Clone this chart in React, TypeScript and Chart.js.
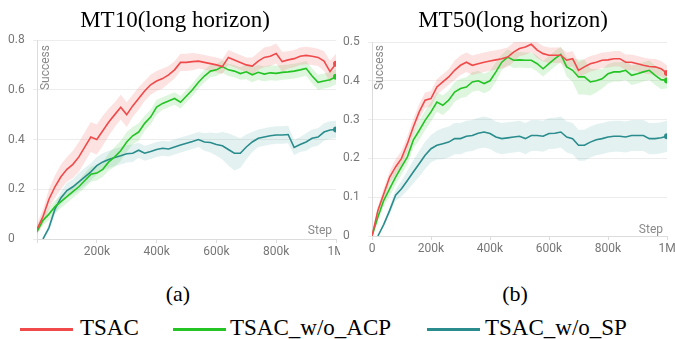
import React, { useEffect, useRef } from "react";
import { Chart, registerables } from "chart.js";
Chart.register(...registerables);

// ---------- data ----------
const STEPS_K = [0,20,40,60,80,100,120,140,160,180,200,220,240,260,280,300,320,340,360,380,400,420,440,460,480,500,520,540,560,580,600,620,640,660,680,700,720,740,760,780,800,820,840,860,880,900,920,940,960,980,1000];
const X_TICK_VALUES = [0, 200000, 400000, 600000, 800000, 1000000];
const X_TICK_LABELS = ["0", "200k", "400k", "600k", "800k", "1M"];
const Y_TICKS_MT10 = ["0", "0.2", "0.4", "0.6", "0.8"];
const Y_TICKS_MT50 = ["0", "0.1", "0.2", "0.3", "0.4", "0.5"];

const SERIES_NAMES = ["TSAC", "TSAC_w/o_ACP", "TSAC_w/o_SP"];

// MT10 means
const MT10_TSAC = [0.04,0.09,0.16,0.21,0.25,0.28,0.30,0.33,0.37,0.41,0.40,0.435,0.47,0.50,0.53,0.50,0.535,0.565,0.595,0.62,0.635,0.645,0.66,0.68,0.71,0.71,0.713,0.715,0.71,0.705,0.70,0.693,0.73,0.72,0.71,0.70,0.695,0.715,0.73,0.735,0.746,0.713,0.72,0.725,0.735,0.738,0.735,0.73,0.715,0.673,0.705];
const MT10_ACP = [0.03,0.075,0.10,0.13,0.15,0.17,0.19,0.21,0.235,0.26,0.265,0.28,0.31,0.33,0.355,0.39,0.415,0.43,0.465,0.49,0.53,0.545,0.555,0.565,0.55,0.575,0.60,0.63,0.655,0.675,0.68,0.693,0.68,0.675,0.665,0.672,0.66,0.67,0.663,0.668,0.666,0.67,0.672,0.675,0.68,0.686,0.655,0.63,0.635,0.64,0.652];
const MT10_SP = [null,0.0,0.045,0.12,0.165,0.195,0.21,0.23,0.25,0.27,0.295,0.31,0.32,0.328,0.335,0.343,0.345,0.357,0.345,0.352,0.36,0.365,0.362,0.37,0.378,0.385,0.392,0.40,0.39,0.388,0.38,0.375,0.36,0.345,0.345,0.37,0.39,0.405,0.41,0.415,0.418,0.418,0.42,0.368,0.38,0.39,0.405,0.41,0.43,0.438,0.44];
// MT10 band half-widths
const MT10_TSAC_SPREAD = [0.02,0.03,0.04,0.045,0.05,0.05,0.055,0.06,0.06,0.06,0.06,0.06,0.055,0.05,0.05,0.05,0.045,0.045,0.04,0.04,0.04,0.04,0.035,0.035,0.035,0.035,0.035,0.03,0.03,0.03,0.03,0.03,0.03,0.03,0.03,0.03,0.035,0.035,0.04,0.04,0.04,0.04,0.035,0.035,0.035,0.035,0.035,0.035,0.04,0.045,0.04];
const MT10_ACP_SPREAD = [0.01,0.02,0.025,0.025,0.025,0.025,0.025,0.025,0.03,0.03,0.03,0.03,0.035,0.04,0.04,0.04,0.035,0.035,0.03,0.03,0.03,0.025,0.025,0.025,0.025,0.025,0.025,0.025,0.025,0.025,0.025,0.025,0.025,0.025,0.025,0.03,0.03,0.03,0.03,0.03,0.03,0.03,0.03,0.03,0.03,0.03,0.03,0.03,0.03,0.03,0.03];
const MT10_SP_SPREAD = [0,0,0.015,0.02,0.025,0.03,0.03,0.035,0.035,0.035,0.035,0.035,0.035,0.035,0.035,0.035,0.035,0.03,0.03,0.03,0.03,0.03,0.03,0.03,0.03,0.03,0.03,0.03,0.035,0.04,0.045,0.055,0.065,0.07,0.06,0.05,0.04,0.035,0.035,0.035,0.035,0.035,0.035,0.03,0.03,0.035,0.035,0.035,0.035,0.035,0.035];

// MT50 means
const MT50_TSAC = [0,0.066,0.109,0.152,0.178,0.20,0.238,0.281,0.32,0.35,0.354,0.384,0.397,0.41,0.427,0.44,0.448,0.44,0.444,0.448,0.451,0.454,0.457,0.461,0.474,0.483,0.487,0.494,0.479,0.47,0.466,0.466,0.466,0.453,0.457,0.427,0.436,0.444,0.448,0.453,0.454,0.457,0.457,0.448,0.448,0.444,0.44,0.437,0.436,0.431,0.42];
const MT50_ACP = [0,0.049,0.092,0.122,0.152,0.178,0.204,0.247,0.272,0.298,0.32,0.345,0.337,0.35,0.371,0.38,0.384,0.397,0.40,0.393,0.40,0.423,0.448,0.461,0.453,0.454,0.453,0.453,0.444,0.431,0.444,0.457,0.468,0.436,0.427,0.41,0.41,0.397,0.40,0.405,0.418,0.423,0.423,0.427,0.414,0.418,0.423,0.427,0.414,0.403,0.401];
const MT50_SP = [null,0,0.03,0.066,0.105,0.122,0.143,0.165,0.186,0.208,0.225,0.234,0.238,0.242,0.251,0.251,0.257,0.259,0.265,0.268,0.264,0.255,0.251,0.253,0.255,0.257,0.251,0.259,0.259,0.257,0.264,0.265,0.268,0.255,0.251,0.234,0.234,0.242,0.248,0.251,0.255,0.257,0.257,0.255,0.259,0.259,0.259,0.251,0.251,0.253,0.257];
// MT50 band half-widths
const MT50_TSAC_SPREAD = [0.005,0.01,0.015,0.015,0.02,0.02,0.02,0.02,0.02,0.02,0.02,0.02,0.02,0.02,0.025,0.025,0.025,0.025,0.025,0.025,0.025,0.025,0.025,0.025,0.025,0.02,0.02,0.02,0.02,0.02,0.02,0.02,0.02,0.02,0.02,0.02,0.02,0.02,0.02,0.02,0.02,0.02,0.02,0.02,0.02,0.02,0.02,0.02,0.02,0.02,0.02];
const MT50_ACP_SPREAD = [0.005,0.01,0.015,0.02,0.02,0.02,0.02,0.02,0.025,0.025,0.025,0.025,0.025,0.025,0.025,0.025,0.025,0.025,0.025,0.025,0.025,0.025,0.02,0.02,0.02,0.02,0.02,0.02,0.02,0.02,0.02,0.02,0.02,0.025,0.03,0.045,0.045,0.035,0.03,0.025,0.025,0.025,0.025,0.025,0.025,0.025,0.025,0.025,0.025,0.025,0.02];
const MT50_SP_SPREAD = [0,0,0.005,0.01,0.015,0.02,0.025,0.03,0.033,0.035,0.035,0.037,0.04,0.04,0.04,0.04,0.04,0.04,0.04,0.04,0.04,0.04,0.04,0.04,0.04,0.04,0.04,0.04,0.04,0.04,0.04,0.04,0.04,0.04,0.04,0.04,0.04,0.04,0.04,0.04,0.04,0.04,0.04,0.04,0.04,0.04,0.04,0.04,0.04,0.04,0.04];

// ---------- styles ----------
const LINE_COLORS = ["#f04a4a", "#24c424", "#2a8c8c"];
const BAND_COLORS = ["rgba(245,110,110,0.20)", "rgba(90,205,90,0.20)", "rgba(70,160,160,0.15)"];
const SERIF = '"Liberation Serif", "Times New Roman", serif';
const SANS = 'Roboto, "Liberation Sans", Arial, sans-serif';

type Cfg = {
  means: (number | null)[][];
  spreads: number[][];
  yMax: number;
  yLabels: string[];
  width: number;
  height: number;
  pad: { left: number; right: number; top: number };
  xAxisHeight: number;
  showZeroX: boolean;
  successOffset: [number, number];
  stepOffset: [number, number];
};

const cornerLabels = {
  id: "cornerLabels",
  afterDraw(chart: any, _args: any, opts: any) {
    const { ctx, chartArea } = chart;
    ctx.save();
    ctx.fillStyle = "#8a8a8a";
    ctx.font = `12px ${SANS}`;
    ctx.translate(chartArea.left + opts.success[0], chartArea.top + opts.success[1]);
    ctx.rotate(-Math.PI / 2);
    ctx.textAlign = "right";
    ctx.textBaseline = "middle";
    ctx.fillText("Success", 0, 0);
    ctx.restore();
    ctx.save();
    ctx.fillStyle = "#8a8a8a";
    ctx.font = `12px ${SANS}`;
    ctx.textAlign = "right";
    ctx.textBaseline = "alphabetic";
    ctx.fillText("Step", chartArea.right - opts.step[0], chartArea.bottom - opts.step[1]);
    ctx.restore();
  },
};

function Panel({ cfg, style }: { cfg: Cfg; style: React.CSSProperties }) {
  const ref = useRef<HTMLCanvasElement>(null);
  useEffect(() => {
    if (!ref.current) return;
    const toPts = (vals: (number | null)[]) =>
      STEPS_K.map((k, i) => ({ x: k * 1000, y: vals[i] as any }));
    const datasets: any[] = [];
    cfg.means.forEach((m, s) => {
      const sp = cfg.spreads[s];
      datasets.push({
        data: toPts(m.map((v, i) => (v == null ? null : v + sp[i]))),
        borderWidth: 0, pointRadius: 0, fill: false, order: 2, borderColor: "transparent",
      });
      datasets.push({
        data: toPts(m.map((v, i) => (v == null ? null : v - sp[i]))),
        borderWidth: 0, pointRadius: 0, fill: "-1", order: 2, borderColor: "transparent",
        backgroundColor: BAND_COLORS[s],
      });
    });
    cfg.means.forEach((m, s) => {
      const last = m.length - 1;
      datasets.push({
        label: SERIES_NAMES[s],
        data: toPts(m),
        borderColor: LINE_COLORS[s],
        backgroundColor: LINE_COLORS[s],
        borderWidth: 1.6,
        tension: 0,
        fill: false,
        order: 0,
        pointRadius: (c: any) => (c.dataIndex === last ? 3 : 0),
        pointBorderWidth: 0,
        pointBackgroundColor: LINE_COLORS[s],
      });
    });
    const yStep = cfg.yMax / (cfg.yLabels.length - 1);
    const chart = new Chart(ref.current, {
      type: "line",
      data: { datasets },
      plugins: [cornerLabels],
      options: {
        animation: false,
        responsive: false,
        devicePixelRatio: 1,
        layout: { padding: { left: cfg.pad.left, right: cfg.pad.right, top: cfg.pad.top, bottom: 0 } },
        plugins: {
          legend: { display: false },
          tooltip: { enabled: false },
          cornerLabels: { success: cfg.successOffset, step: cfg.stepOffset },
        } as any,
        scales: {
          x: {
            type: "linear",
            min: 0,
            max: 1000000,
            border: { color: "#dcdcdc" },
            grid: { drawOnChartArea: false, drawTicks: true, tickLength: 4, color: "#dcdcdc" },
            afterBuildTicks: (axis: any) => {
              axis.ticks = X_TICK_VALUES.map((v) => ({ value: v }));
            },
            ticks: {
              autoSkip: false,
              maxRotation: 0,
              padding: 2,
              color: "#777",
              font: { family: SANS, size: 12 },
              callback: (_v: any, i: number) => (i === 0 && !cfg.showZeroX ? "" : X_TICK_LABELS[i]),
            },
            afterFit: (axis: any) => {
              axis.height = cfg.xAxisHeight;
              axis.paddingLeft = 0;
              axis.paddingRight = 0;
            },
          },
          y: {
            min: 0,
            max: cfg.yMax,
            border: { color: "#dcdcdc" },
            grid: { color: "#ededed", tickLength: 4, drawTicks: true },
            afterBuildTicks: (axis: any) => {
              axis.ticks = cfg.yLabels.map((_l, i) => ({ value: i * yStep }));
            },
            ticks: {
              color: "#777",
              crossAlign: "far",
              padding: 2,
              font: { family: SANS, size: 12 },
              callback: (_v: any, i: number) => cfg.yLabels[i],
            },
            afterFit: (axis: any) => {
              axis.width = 29;
              axis.paddingTop = 0;
              axis.paddingBottom = 0;
            },
          },
        },
      } as any,
    });
    return () => chart.destroy();
  }, []);
  return <canvas ref={ref} width={cfg.width} height={cfg.height} style={style} />;
}

const CFG10: Cfg = {
  means: [MT10_TSAC, MT10_ACP, MT10_SP],
  spreads: [MT10_TSAC_SPREAD, MT10_ACP_SPREAD, MT10_SP_SPREAD],
  yMax: 0.8,
  yLabels: Y_TICKS_MT10,
  width: 340,
  height: 270,
  pad: { left: 8, right: 3, top: 40 },
  xAxisHeight: 31,
  showZeroX: false,
  successOffset: [9, 5],
  stepOffset: [4, 5],
};

const CFG50: Cfg = {
  means: [MT50_TSAC, MT50_ACP, MT50_SP],
  spreads: [MT50_TSAC_SPREAD, MT50_ACP_SPREAD, MT50_SP_SPREAD],
  yMax: 0.5,
  yLabels: Y_TICKS_MT50,
  width: 335,
  height: 270,
  pad: { left: 3, right: 8, top: 42 },
  xAxisHeight: 34,
  showZeroX: true,
  successOffset: [8, 3],
  stepOffset: [4, 3],
};

const textBase: React.CSSProperties = {
  position: "absolute",
  fontFamily: SERIF,
  color: "#000",
  whiteSpace: "nowrap",
};

function Centered({ cx, top, size, text }: { cx: number; top: number; size: number; text: string }) {
  return (
    <div style={{ ...textBase, left: cx - 150, width: 300, textAlign: "center", top, fontSize: size, lineHeight: `${size}px` }}>
      {text}
    </div>
  );
}

export default function App() {
  const legendXs = [
    { line: 20, text: 80 },
    { line: 173, text: 230 },
    { line: 427, text: 485 },
  ];
  return (
    <div style={{ position: "absolute", left: 0, top: 0, width: 675, height: 339, background: "#fff", overflow: "hidden" }}>
      <Panel cfg={CFG10} style={{ position: "absolute", left: 0, top: 0 }} />
      <Panel cfg={CFG50} style={{ position: "absolute", left: 340, top: 0 }} />
      <Centered cx={175} top={8} size={23} text="MT10(long horizon)" />
      <Centered cx={513} top={8} size={23} text="MT50(long horizon)" />
      <Centered cx={178} top={283} size={22} text="(a)" />
      <Centered cx={515} top={283} size={22} text="(b)" />
      {SERIES_NAMES.map((name, i) => (
        <React.Fragment key={name}>
          <div style={{ position: "absolute", left: legendXs[i].line, top: 328, width: 53, height: 3, background: LINE_COLORS[i] }} />
          <div style={{ ...textBase, left: legendXs[i].text, top: 316, fontSize: 23, lineHeight: "23px" }}>{name}</div>
        </React.Fragment>
      ))}
    </div>
  );
}
